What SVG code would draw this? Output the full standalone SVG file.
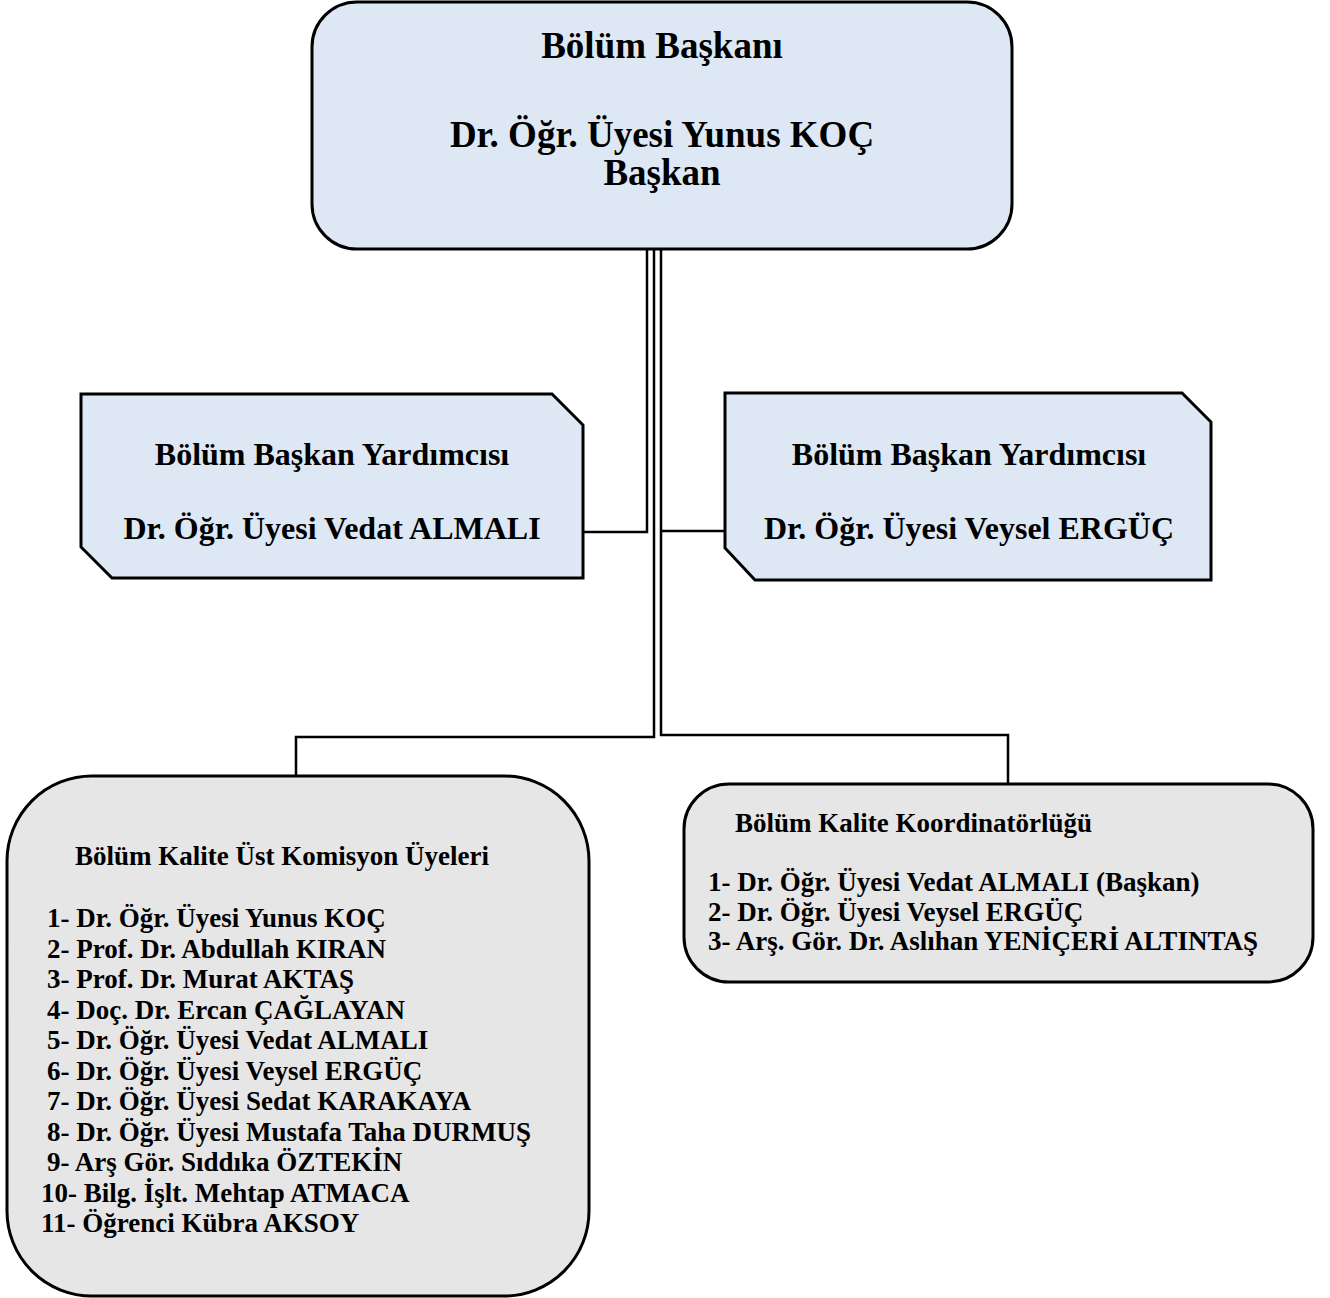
<svg xmlns="http://www.w3.org/2000/svg" width="1330" height="1298" viewBox="0 0 1330 1298">
<style>
.blue{fill:#dde8f4;stroke:#000;stroke-width:3}
.gray{fill:#e6e6e6;stroke:#000;stroke-width:3}
.con{fill:none;stroke:#000;stroke-width:2.5}
text{font-family:"Liberation Serif","Times New Roman",serif;font-weight:bold;fill:#000}
.t36{font-size:37px;text-anchor:middle}
.t31{font-size:32px;text-anchor:middle}
.t26{font-size:27px}
</style>
<rect width="1330" height="1298" fill="#fff"/>
<g id="connectors">
<polyline class="con" points="647,249 647,532 583,532"/>
<polyline class="con" points="654,249 654,737 296,737 296,776"/>
<polyline class="con" points="661,249 661,735 1008,735 1008,784"/>
<line class="con" x1="661" y1="531" x2="725" y2="531"/>
</g>
<g id="baskan">
<rect class="blue" x="312" y="2" width="700" height="247" rx="45" ry="45"/>
<text class="t36" x="662" y="58">Bölüm Başkanı</text>
<text class="t36" x="662" y="147">Dr. Öğr. Üyesi Yunus KOÇ</text>
<text class="t36" x="662" y="185">Başkan</text>
</g>
<g id="yardimci1">
<path class="blue" d="M81,394 H552 L583,425 V578 H112 L81,547 Z"/>
<text class="t31" x="332" y="465">Bölüm Başkan Yardımcısı</text>
<text class="t31" x="332" y="539">Dr. Öğr. Üyesi Vedat ALMALI</text>
</g>
<g id="yardimci2">
<path class="blue" d="M725,393 H1182 L1211,422 V580 H755 L725,548 Z"/>
<text class="t31" x="969" y="465">Bölüm Başkan Yardımcısı</text>
<text class="t31" x="969" y="539">Dr. Öğr. Üyesi Veysel ERGÜÇ</text>
</g>
<g id="ust-komisyon">
<rect class="gray" x="7" y="776" width="582" height="520" rx="85" ry="85"/>
<text class="t26" x="75" y="865">Bölüm Kalite Üst Komisyon Üyeleri</text>
<text class="t26" x="47" y="927">1- Dr. Öğr. Üyesi Yunus KOÇ</text>
<text class="t26" x="47" y="957.5">2- Prof. Dr. Abdullah KIRAN</text>
<text class="t26" x="47" y="988">3- Prof. Dr. Murat AKTAŞ</text>
<text class="t26" x="47" y="1018.5">4- Doç. Dr. Ercan ÇAĞLAYAN</text>
<text class="t26" x="47" y="1049">5- Dr. Öğr. Üyesi Vedat ALMALI</text>
<text class="t26" x="47" y="1079.5">6- Dr. Öğr. Üyesi Veysel ERGÜÇ</text>
<text class="t26" x="47" y="1110">7- Dr. Öğr. Üyesi Sedat KARAKAYA</text>
<text class="t26" x="47" y="1140.5">8- Dr. Öğr. Üyesi Mustafa Taha DURMUŞ</text>
<text class="t26" x="47" y="1171">9- Arş Gör. Sıddıka ÖZTEKİN</text>
<text class="t26" x="41" y="1201.5">10- Bilg. İşlt. Mehtap ATMACA</text>
<text class="t26" x="41" y="1232">11- Öğrenci Kübra AKSOY</text>
</g>
<g id="koordinatorluk">
<rect class="gray" x="684" y="784" width="629" height="198" rx="45" ry="45"/>
<text class="t26" x="735" y="832">Bölüm Kalite Koordinatörlüğü</text>
<text class="t26" x="708" y="891">1- Dr. Öğr. Üyesi Vedat ALMALI (Başkan)</text>
<text class="t26" x="708" y="921">2- Dr. Öğr. Üyesi Veysel ERGÜÇ</text>
<text class="t26" x="708" y="950">3- Arş. Gör. Dr. Aslıhan YENİÇERİ ALTINTAŞ</text>
</g>
</svg>
